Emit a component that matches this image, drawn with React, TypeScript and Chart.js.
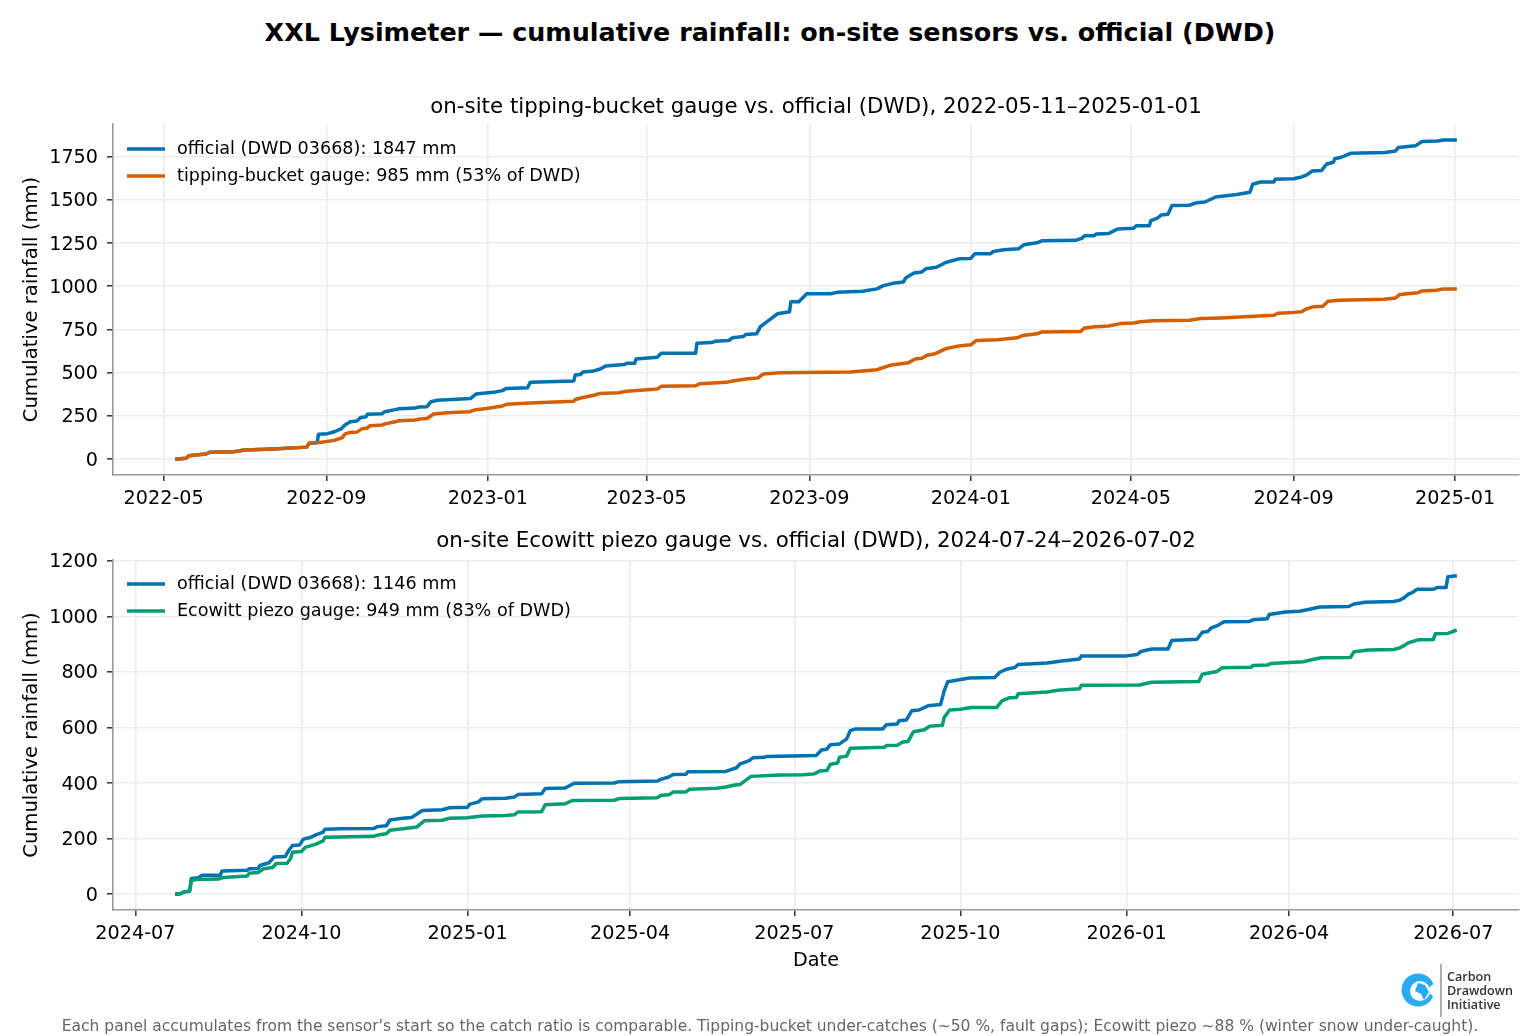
import { useEffect, useRef } from 'react'
import { Chart, registerables } from 'chart.js'

Chart.register(...registerables)

const BLUE = '#0072B2'
const ORANGE = '#D55E00'
const GREEN = '#009E73'
const FONT = '"DejaVu Sans"'

// top panel, days since 2022-05-11 and cumulative mm
const topStart = '2022-05-11'
const topEnd = '2025-01-01'
const topTicks = ['2022-05-01', '2022-09-01', '2023-01-01', '2023-05-01', '2023-09-01', '2024-01-01', '2024-05-01', '2024-09-01', '2025-01-01']
const topYTicks = [0, 250, 500, 750, 1000, 1250, 1500, 1750]

const topDwdDays = [0, 7, 9, 22, 25, 43, 51, 73, 98, 100, 106, 107, 114, 119, 124, 127, 131, 136, 139, 143, 144, 155, 157, 165, 168, 180, 183, 189, 192, 197, 222, 226, 239, 246, 249, 265, 267, 300, 301, 305, 307, 315, 320, 324, 338, 340, 346, 347, 363, 366, 392, 393, 404, 407, 417, 420, 428, 430, 438, 441, 446, 454, 463, 464, 470, 476, 494, 499, 518, 529, 534, 541, 549, 551, 557, 563, 566, 574, 581, 591, 600, 603, 615, 617, 625, 636, 640, 650, 654, 679, 684, 686, 693, 695, 704, 711, 723, 725, 735, 736, 741, 744, 749, 752, 765, 771, 777, 785, 801, 811, 813, 819, 829, 830, 844, 850, 854, 858, 865, 869, 874, 875, 880, 887, 913, 921, 923, 936, 941, 953, 957, 966]
const topDwdMm = [0, 4, 19, 29, 40, 42, 52, 58, 69, 91, 94, 143, 147, 158, 174, 197, 216, 220, 241, 245, 260, 262, 274, 286, 291, 295, 301, 303, 332, 340, 351, 376, 386, 396, 409, 413, 444, 452, 486, 490, 504, 510, 521, 539, 547, 554, 554, 579, 589, 612, 612, 671, 674, 682, 686, 702, 709, 721, 725, 767, 795, 841, 853, 911, 911, 957, 957, 965, 971, 985, 1004, 1017, 1025, 1050, 1077, 1083, 1101, 1110, 1138, 1159, 1161, 1188, 1188, 1202, 1211, 1217, 1240, 1252, 1264, 1266, 1278, 1293, 1293, 1303, 1305, 1332, 1336, 1351, 1351, 1380, 1394, 1413, 1417, 1467, 1469, 1484, 1488, 1517, 1531, 1544, 1591, 1604, 1604, 1620, 1623, 1633, 1645, 1668, 1670, 1708, 1718, 1738, 1747, 1770, 1774, 1783, 1803, 1813, 1838, 1841, 1847, 1847]

const bucketDays = [0, 7, 9, 22, 25, 43, 51, 73, 98, 100, 108, 119, 122, 125, 127, 131, 136, 140, 144, 146, 155, 158, 165, 168, 180, 184, 189, 194, 204, 221, 226, 234, 246, 249, 267, 300, 301, 306, 315, 320, 334, 340, 363, 366, 392, 395, 415, 421, 430, 439, 443, 456, 509, 529, 540, 553, 558, 563, 567, 573, 581, 591, 600, 604, 620, 635, 639, 650, 654, 683, 686, 694, 704, 713, 723, 728, 738, 765, 774, 789, 814, 829, 832, 844, 850, 853, 859, 866, 870, 879, 912, 921, 924, 938, 941, 952, 957, 966]
const bucketMm = [0, 4, 19, 29, 40, 42, 52, 58, 69, 93, 96, 108, 116, 124, 145, 154, 156, 176, 180, 193, 197, 205, 216, 222, 226, 232, 235, 261, 268, 274, 286, 293, 307, 317, 324, 334, 345, 355, 369, 380, 384, 393, 405, 421, 424, 436, 444, 453, 463, 469, 492, 500, 504, 517, 545, 558, 579, 583, 601, 610, 638, 655, 661, 686, 690, 702, 715, 725, 736, 739, 759, 766, 770, 784, 788, 795, 801, 803, 813, 817, 826, 832, 844, 849, 853, 867, 882, 884, 913, 919, 925, 932, 952, 963, 973, 977, 985, 985]

// bottom panel, days since 2024-07-24
const botStart = '2024-07-24'
const botEnd = '2026-07-02'
const botTicks = ['2024-07-01', '2024-10-01', '2025-01-01', '2025-04-01', '2025-07-01', '2025-10-01', '2026-01-01', '2026-04-01', '2026-07-01']
const botYTicks = [0, 200, 400, 600, 800, 1000, 1200]

const botDwdDays = [0, 2, 4, 7, 8, 12, 14, 24, 25, 39, 40, 45, 46, 51, 54, 60, 62, 64, 68, 70, 74, 77, 81, 82, 91, 109, 111, 116, 118, 125, 130, 136, 147, 151, 161, 162, 167, 169, 182, 187, 189, 202, 204, 215, 220, 242, 245, 266, 268, 272, 275, 282, 283, 304, 310, 312, 317, 319, 325, 327, 354, 355, 357, 360, 362, 367, 371, 373, 376, 391, 393, 399, 400, 404, 407, 411, 416, 423, 425, 427, 431, 439, 453, 456, 460, 464, 466, 482, 489, 500, 501, 526, 532, 534, 540, 549, 551, 565, 568, 571, 573, 576, 580, 594, 596, 604, 605, 614, 622, 628, 633, 649, 652, 658, 674, 677, 680, 682, 684, 687, 696, 698, 703, 704, 708]
const botDwdMm = [0, 1, 8, 10, 56, 59, 68, 68, 83, 86, 91, 92, 103, 113, 134, 135, 158, 175, 177, 198, 204, 213, 223, 234, 235, 236, 243, 246, 267, 273, 276, 301, 304, 311, 313, 323, 332, 343, 345, 350, 359, 361, 380, 382, 399, 400, 405, 407, 413, 421, 431, 432, 441, 442, 455, 469, 481, 491, 493, 496, 499, 505, 519, 522, 538, 541, 559, 589, 595, 595, 610, 613, 624, 627, 660, 663, 678, 683, 732, 765, 769, 778, 780, 800, 811, 816, 827, 832, 839, 847, 858, 858, 863, 874, 883, 883, 913, 918, 943, 946, 959, 966, 981, 982, 988, 992, 1007, 1016, 1019, 1027, 1034, 1036, 1045, 1051, 1054, 1058, 1068, 1080, 1085, 1098, 1098, 1104, 1104, 1143, 1146]

const piezoDays = [0, 2, 4, 7, 8, 10, 23, 26, 39, 40, 45, 48, 53, 55, 61, 63, 64, 69, 71, 77, 81, 82, 109, 112, 116, 118, 125, 133, 137, 147, 151, 161, 169, 182, 187, 189, 202, 204, 215, 219, 242, 245, 266, 268, 273, 275, 282, 284, 299, 304, 309, 312, 318, 334, 347, 353, 356, 360, 362, 366, 367, 371, 373, 392, 393, 399, 402, 405, 408, 414, 417, 424, 425, 428, 434, 440, 454, 457, 461, 465, 466, 482, 488, 500, 501, 533, 540, 566, 568, 576, 579, 595, 596, 604, 606, 624, 629, 634, 650, 652, 660, 674, 677, 680, 682, 686, 688, 696, 697, 704, 708]
const piezoMm = [0, 1, 8, 10, 48, 53, 54, 60, 65, 75, 78, 91, 96, 110, 111, 128, 151, 153, 168, 180, 192, 205, 208, 214, 217, 230, 235, 242, 264, 266, 273, 275, 281, 283, 286, 296, 297, 322, 325, 337, 338, 344, 347, 355, 359, 368, 368, 378, 381, 386, 393, 395, 424, 429, 430, 433, 443, 445, 468, 472, 493, 497, 525, 529, 535, 536, 548, 550, 585, 592, 605, 608, 636, 663, 666, 672, 672, 696, 707, 708, 722, 728, 734, 740, 752, 753, 763, 766, 792, 802, 815, 817, 823, 825, 831, 837, 845, 851, 852, 873, 879, 881, 886, 896, 905, 913, 916, 917, 938, 939, 949]

const toDay = (s: string) => {
  const [y, m, d] = s.split('-').map(Number)
  return Date.UTC(y, m - 1, d) / 864e5
}
const fromDay = (v: number) => new Date(v * 864e5).toISOString().slice(0, 7)

const inlineLegend = {
  id: 'inlineLegend',
  afterDraw(chart: Chart, _args: any, opts: any) {
    const { ctx, chartArea } = chart
    ctx.save()
    ctx.font = `17.6px ${FONT}`
    ctx.textBaseline = 'middle'
    chart.data.datasets.forEach((ds: any, i: number) => {
      const y = chartArea.top + opts.offset + i * 27
      ctx.strokeStyle = ds.borderColor
      ctx.lineWidth = 3.5
      ctx.beginPath()
      ctx.moveTo(chartArea.left + 14, y)
      ctx.lineTo(chartArea.left + 52, y)
      ctx.stroke()
      ctx.fillStyle = '#000'
      ctx.fillText(ds.label, chartArea.left + 64, y)
    })
    ctx.restore()
  },
}

interface Series { label: string; color: string; days: number[]; mm: number[] }
interface PanelProps {
  title: string
  titleGap: number
  legendOffset: number
  start: string
  end: string
  ticks: string[]
  yTicks: number[]
  series: Series[]
  yEnd: number
  xTitle?: string
  top: number
  height: number
}

function Panel({ title, titleGap, legendOffset, start, end, ticks, yTicks, series, yEnd, xTitle, top, height }: PanelProps) {
  const canvasRef = useRef<HTMLCanvasElement>(null)

  useEffect(() => {
    if (!canvasRef.current) return
    const s0 = toDay(start)
    const s1 = toDay(end)
    const xPad = (s1 - s0) * 0.05
    const yPad = yEnd * 0.05

    const chart = new Chart(canvasRef.current, {
      type: 'line',
      data: {
        datasets: series.map((s, i) => ({
          label: s.label,
          data: s.days.map((d, j) => ({ x: s0 + d, y: s.mm[j] })),
          borderColor: s.color,
          backgroundColor: s.color,
          borderWidth: 3.5,
          pointRadius: 0,
          tension: 0,
          borderJoinStyle: 'round',
          borderCapStyle: 'square',
          order: series.length - i,
        })),
      },
      options: {
        responsive: false,
        animation: false,
        layout: { padding: { right: 21, top: 0, bottom: 0, left: 0 } },
        plugins: {
          legend: { display: false },
          tooltip: { enabled: false },
          inlineLegend: { offset: legendOffset },
          title: {
            display: true,
            text: title,
            fullSize: false,
            color: '#000',
            font: { family: FONT, size: 21.35, weight: 'normal' },
            padding: { top: 1, bottom: titleGap - 1 },
          },
        },
        scales: {
          x: {
            type: 'linear',
            min: s0 - xPad,
            max: s1 + xPad,
            afterBuildTicks: (axis: any) => { axis.ticks = ticks.map(t => ({ value: toDay(t) })) },
            afterFit: (axis: any) => { axis.height = xTitle ? 65 : 35 },
            ticks: {
              callback: (v: any) => fromDay(Number(v)),
              autoSkip: false,
              maxRotation: 0,
              color: '#000',
              padding: 6,
              font: { family: FONT, size: 19.2 },
            },
            grid: { color: '#ebebeb', lineWidth: 1.6, tickColor: '#333', tickLength: 6, tickWidth: 1.5 },
            border: { color: '#999', width: 1.6 },
            title: {
              display: !!xTitle,
              text: xTitle,
              color: '#000',
              font: { family: FONT, size: 19.2 },
              padding: { top: 4, bottom: 2.5 },
            },
          },
          y: {
            min: -yPad,
            max: yEnd + yPad,
            afterBuildTicks: (axis: any) => { axis.ticks = yTicks.map(v => ({ value: v })) },
            afterFit: (axis: any) => { axis.width = 113 },
            ticks: {
              callback: (v: any) => String(v),
              color: '#000',
              padding: 9,
              labelOffset: 1.5,
              font: { family: FONT, size: 19.2 },
            },
            grid: { color: '#ebebeb', lineWidth: 1.6, tickColor: '#333', tickLength: 6, tickWidth: 1.5 },
            border: { color: '#999', width: 1.6 },
            title: {
              display: true,
              text: 'Cumulative rainfall (mm)',
              color: '#000',
              font: { family: FONT, size: 19.6 },
              padding: { top: 20, bottom: 0 },
            },
          },
        },
      } as any,
      plugins: [inlineLegend as any],
    })
    return () => chart.destroy()
  }, [])

  return (
    <canvas
      ref={canvasRef}
      width={1540}
      height={height}
      style={{ position: 'absolute', left: 0, top, width: 1540, height }}
    />
  )
}

function Logo() {
  return (
    <div style={{ position: 'absolute', left: 1400, top: 962, width: 130, height: 56 }}>
      <svg width="42" height="56" style={{ position: 'absolute', left: 0, top: 0 }}>
        <circle cx="18" cy="28" r="16.5" fill="#29ABEF" />
        <path d="M36 20 L26 28 L36 37 Z" fill="#fff" />
        <circle cx="20" cy="29" r="10" fill="#fff" />
        <path d="M18 21 L25 23 L29 30 L24 38 L21 32 L15 29 Z" fill="#29ABEF" />
        <line x1="41" y1="2" x2="41" y2="55" stroke="#777" strokeWidth="1.2" />
      </svg>
      <div style={{ position: 'absolute', left: 47, top: 8, font: `600 12.6px/14px "Open Sans"`, color: '#333', whiteSpace: 'nowrap' }}>
        Carbon<br />Drawdown<br />Initiative
      </div>
    </div>
  )
}

export default function App() {
  return (
    <div style={{ position: 'absolute', left: 0, top: 0, width: 1540, height: 1036, background: '#fff', overflow: 'hidden', fontFamily: FONT }}>
      <div style={{ position: 'absolute', left: 0, width: 1540, top: 17, textAlign: 'center', fontWeight: 'bold', fontSize: 25.4, lineHeight: '30px', color: '#000' }}>
        XXL Lysimeter — cumulative rainfall: on-site sensors vs. official (DWD)
      </div>
      <Panel
        top={94}
        height={416}
        titleGap={4.4}
        legendOffset={25}
        title="on-site tipping-bucket gauge vs. official (DWD), 2022-05-11–2025-01-01"
        start={topStart}
        end={topEnd}
        ticks={topTicks}
        yTicks={topYTicks}
        yEnd={1847}
        series={[
          { label: 'official (DWD 03668): 1847 mm', color: BLUE, days: topDwdDays, mm: topDwdMm },
          { label: 'tipping-bucket gauge: 985 mm (53% of DWD)', color: ORANGE, days: bucketDays, mm: bucketMm },
        ]}
      />
      <Panel
        top={528}
        height={447}
        titleGap={6.4}
        legendOffset={24}
        title="on-site Ecowitt piezo gauge vs. official (DWD), 2024-07-24–2026-07-02"
        start={botStart}
        end={botEnd}
        ticks={botTicks}
        yTicks={botYTicks}
        yEnd={1146}
        xTitle="Date"
        series={[
          { label: 'official (DWD 03668): 1146 mm', color: BLUE, days: botDwdDays, mm: botDwdMm },
          { label: 'Ecowitt piezo gauge: 949 mm (83% of DWD)', color: GREEN, days: piezoDays, mm: piezoMm },
        ]}
      />
      <Logo />
      <div style={{ position: 'absolute', left: 0, width: 1540, top: 1017, textAlign: 'center', fontSize: 15.5, lineHeight: '18px', color: '#666', whiteSpace: 'nowrap' }}>
        Each panel accumulates from the sensor's start so the catch ratio is comparable. Tipping-bucket under-catches (~50 %, fault gaps); Ecowitt piezo ~88 % (winter snow under-caught).
      </div>
    </div>
  )
}
